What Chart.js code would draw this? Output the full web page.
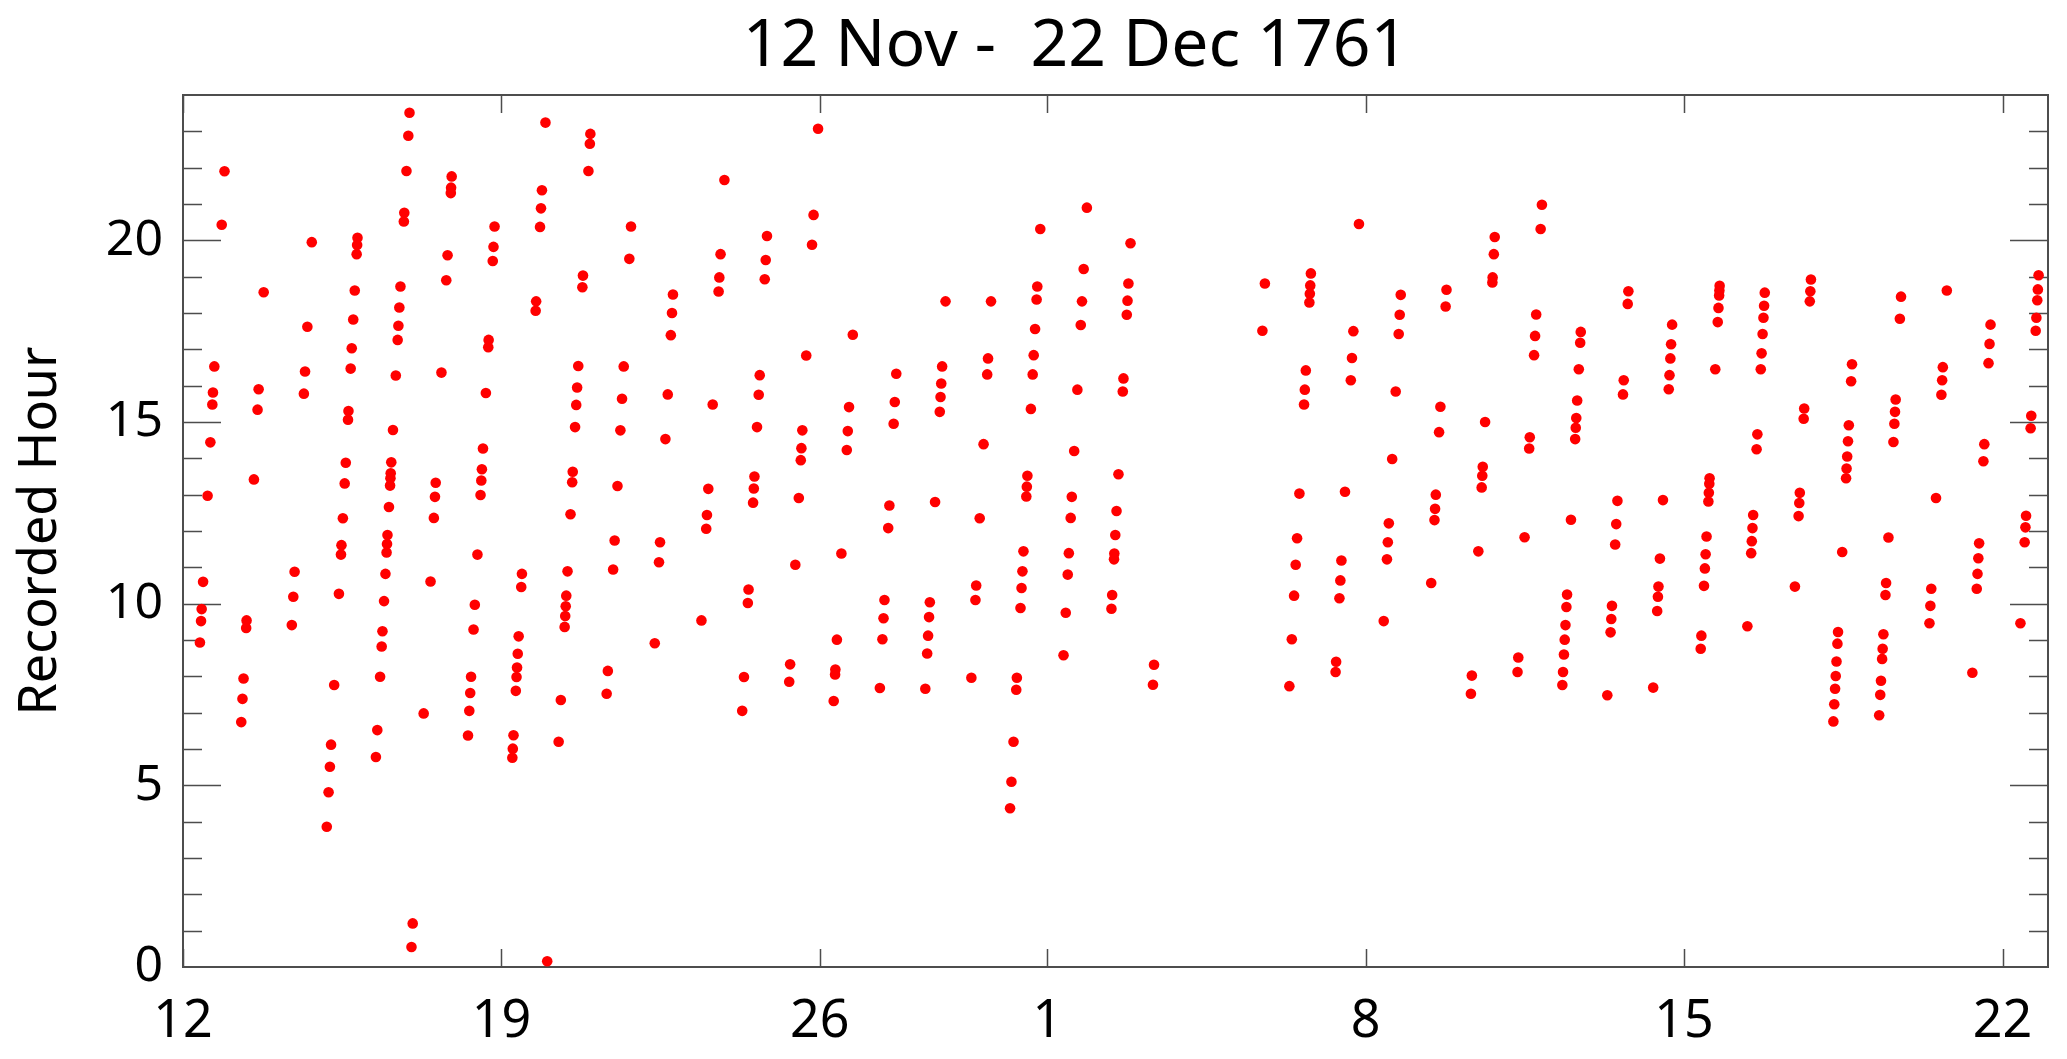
<!DOCTYPE html>
<html>
<head>
<meta charset="utf-8">
<title>Recorded Hour, 12 Nov - 22 Dec 1761</title>
<script src="https://cdn.jsdelivr.net/npm/chart.js@4.4.1/dist/chart.umd.min.js"></script>
<style>
  html, body { margin: 0; padding: 0; background: #fff; }
  canvas { display: block; }
</style>
</head>
<body>
<canvas id="chart" width="2067" height="1059"></canvas>
<script>
// Recorded hours for each day (day 0 = 12 Nov 1761)
const nov12 = [8.93, 9.52, 9.85, 10.60, 12.97, 14.44, 15.48, 15.81, 16.53, 20.43, 21.90];
const nov13 = [6.74, 7.38, 7.94, 9.33, 9.54, 13.42, 15.34, 15.90, 18.57];
const nov14 = [9.41, 10.19, 10.88, 15.78, 16.39, 17.62, 19.95];
const nov15 = [3.86, 4.81, 5.51, 6.12, 7.76, 10.27, 11.35, 11.61, 12.35, 13.31, 13.88, 15.06, 15.30, 16.47, 17.03, 17.82, 18.62, 19.62, 19.87, 20.07];
const nov16 = [5.78, 6.52, 7.99, 8.82, 9.24, 10.07, 10.82, 11.41, 11.64, 11.89, 12.66, 13.25, 13.45, 13.59, 13.89, 14.78, 16.28, 17.26, 17.65, 18.15, 18.73, 20.52, 20.76, 21.91, 22.88, 23.51];
const nov17 = [0.55, 1.20, 6.98, 10.61, 12.36, 12.94, 13.33, 16.36, 18.90, 19.59, 21.30, 21.45, 21.76];
const nov18 = [6.37, 7.05, 7.54, 7.99, 9.29, 9.97, 11.35, 12.99, 13.39, 13.70, 14.27, 15.80, 17.06, 17.26, 19.43, 19.82, 20.38];
const nov19 = [5.76, 6.01, 6.38, 7.60, 7.98, 8.24, 8.62, 9.10, 10.46, 10.82, 18.06, 18.32, 20.37, 20.88, 21.38, 23.24];
const nov20 = [0.16, 6.20, 7.35, 9.36, 9.66, 9.93, 10.22, 10.89, 12.46, 13.34, 13.63, 14.86, 15.47, 15.95, 16.54, 18.71, 19.03, 21.91, 22.66, 22.93];
const nov21 = [7.52, 8.15, 10.94, 11.74, 13.24, 14.77, 15.64, 16.53, 19.49, 20.38];
const nov22 = [8.91, 11.14, 11.69, 14.53, 15.76, 17.39, 18.00, 18.51];
const nov23 = [9.54, 12.06, 12.44, 13.16, 15.48, 18.59, 18.98, 19.62, 21.66];
const nov24 = [7.05, 7.98, 10.02, 10.39, 12.78, 13.17, 13.50, 14.86, 15.75, 16.29, 18.93, 19.46, 20.12];
const nov25 = [7.85, 8.33, 11.07, 12.91, 13.95, 14.28, 14.77, 16.83, 19.88, 20.70, 23.07];
const nov26 = [7.32, 8.05, 8.19, 9.01, 11.38, 14.23, 14.75, 15.41, 17.40];
const nov27 = [7.68, 9.02, 9.60, 10.10, 12.08, 12.70, 14.95, 15.55, 16.33];
const nov28 = [7.66, 8.63, 9.12, 9.63, 10.04, 12.80, 15.28, 15.69, 16.06, 16.53, 18.32];
const nov29 = [7.96, 10.10, 10.50, 12.35, 14.39, 16.31, 16.75, 18.32];
const nov30 = [4.37, 5.10, 6.20, 7.63, 7.96, 9.88, 10.43, 10.89, 11.44, 12.95, 13.22, 13.52, 15.36, 16.31, 16.84, 17.56, 18.37, 18.73, 20.31];
const dec01 = [8.58, 9.75, 10.80, 11.39, 12.36, 12.94, 14.20, 15.89, 17.67, 18.32, 19.21, 20.90];
const dec02 = [9.86, 10.24, 11.22, 11.38, 11.89, 12.55, 13.56, 15.84, 16.20, 17.95, 18.34, 18.81, 19.92];
const dec03 = [7.77, 8.32];
const dec04 = [];
const dec05 = [17.51, 18.81];
const dec06 = [7.73, 9.02, 10.22, 11.07, 11.80, 13.03, 15.48, 15.89, 16.42, 18.29, 18.53, 18.76, 19.09];
const dec07 = [8.12, 8.40, 10.15, 10.64, 11.19, 13.08, 16.15, 16.76, 17.50, 20.45];
const dec08 = [9.52, 11.22, 11.69, 12.21, 13.98, 15.84, 17.42, 17.95, 18.50];
const dec09 = [10.57, 12.30, 12.61, 13.00, 14.72, 15.42, 18.18, 18.64];
const dec10 = [7.52, 8.02, 11.44, 13.20, 13.52, 13.77, 15.00, 18.84, 18.98, 19.62, 20.09];
const dec11 = [8.12, 8.52, 11.83, 14.27, 14.58, 16.84, 17.37, 17.96, 20.31, 20.98];
const dec12 = [7.76, 8.12, 8.60, 9.01, 9.41, 9.91, 10.25, 12.31, 14.53, 14.84, 15.11, 15.59, 16.45, 17.18, 17.48];
const dec13 = [7.48, 9.21, 9.58, 9.94, 11.63, 12.19, 12.83, 15.76, 16.15, 18.25, 18.60];
const dec14 = [7.69, 9.80, 10.19, 10.47, 11.24, 12.85, 15.90, 16.29, 16.75, 17.14, 17.68];
const dec15 = [8.76, 9.12, 10.49, 10.97, 11.36, 11.85, 12.81, 13.05, 13.30, 13.45, 16.45, 17.75, 18.14, 18.48, 18.62, 18.75];
const dec16 = [9.38, 11.39, 11.72, 12.08, 12.44, 14.25, 14.66, 16.45, 16.89, 17.42, 17.87, 18.20, 18.56];
const dec17 = [10.47, 12.41, 12.77, 13.05, 15.09, 15.37, 18.32, 18.60, 18.92];
const dec18 = [6.76, 7.23, 7.66, 8.01, 8.41, 8.90, 9.22, 11.42, 13.45, 13.72, 14.05, 14.47, 14.91, 16.12, 16.59];
const dec19 = [6.93, 7.49, 7.88, 8.48, 8.76, 9.16, 10.24, 10.57, 11.82, 14.45, 14.95, 15.28, 15.62, 17.84, 18.45];
const dec20 = [9.46, 9.94, 10.41, 12.91, 15.75, 16.15, 16.51, 18.62];
const dec21 = [8.10, 10.41, 10.82, 11.25, 11.66, 13.92, 14.39, 16.62, 17.15, 17.68];
const dec22 = [9.46, 11.69, 12.10, 12.42, 14.83, 15.17, 17.51, 17.87, 18.35, 18.65, 19.04];

const days = [nov12, nov13, nov14, nov15, nov16, nov17, nov18, nov19, nov20, nov21,
              nov22, nov23, nov24, nov25, nov26, nov27, nov28, nov29, nov30,
              dec01, dec02, dec03, dec04, dec05, dec06, dec07, dec08, dec09, dec10,
              dec11, dec12, dec13, dec14, dec15, dec16, dec17, dec18, dec19, dec20,
              dec21, dec22];

// x axis ticks (day index -> day of month)
const tickDays = [0, 7, 14, 19, 26, 33, 40];
const tickLabels = ['12', '19', '26', '1', '8', '15', '22'];
const hourTicks = [0, 5, 10, 15, 20];

const titleText = '12 Nov -  22 Dec 1761';
const fontFamily = '"Noto Sans", "DejaVu Sans", sans-serif';

// each point sits at day + fraction of the day
const points = [];
days.forEach((hours, d) => {
    hours.forEach(h => points.push({ x: d + h / 24, y: h }));
});

// box frame with inward ticks, like the original plot
const frameTicks = {
    id: 'frameTicks',
    beforeDatasetsDraw(chart) {
        const { ctx, chartArea: a, scales: { x, y } } = chart;
        ctx.save();
        ctx.strokeStyle = '#4d4d4d';
        ctx.lineWidth = 2;
        ctx.strokeRect(a.left, a.top, a.right - a.left, a.bottom - a.top);
        ctx.lineWidth = 1.5;
        ctx.beginPath();
        for (let h = 1; h < 24; h++) {
            const py = Math.round(y.getPixelForValue(h)) + 0.5;
            const len = h % 5 === 0 ? 38 : 19;
            ctx.moveTo(a.left, py);
            ctx.lineTo(a.left + len, py);
            ctx.moveTo(a.right, py);
            ctx.lineTo(a.right - len, py);
        }
        tickDays.forEach(d => {
            const px = Math.round(x.getPixelForValue(d)) + 0.5;
            ctx.moveTo(px, a.bottom);
            ctx.lineTo(px, a.bottom - 18);
            ctx.moveTo(px, a.top);
            ctx.lineTo(px, a.top + 18);
        });
        ctx.stroke();
        ctx.restore();
    },
    // title sits a bit left of the plot centre in the original
    afterDraw(chart) {
        const { ctx, chartArea: a } = chart;
        ctx.save();
        ctx.fillStyle = '#000';
        ctx.font = '66px ' + fontFamily;
        ctx.textAlign = 'center';
        ctx.textBaseline = 'alphabetic';
        ctx.fillText(titleText, (a.left + a.right) / 2 - 40, 66);
        ctx.restore();
    }
};

const ctx = document.getElementById('chart').getContext('2d');
new Chart(ctx, {
    type: 'scatter',
    data: {
        datasets: [{
            label: 'Recorded Hour',
            data: points,
            backgroundColor: '#ff0000',
            borderWidth: 0,
            pointRadius: 5.3
        }]
    },
    options: {
        responsive: false,
        animation: false,
        layout: { padding: { top: 95, right: 19, bottom: 0, left: 0 } },
        plugins: {
            legend: { display: false },
            tooltip: { enabled: false },
            title: { display: false }
        },
        scales: {
            x: {
                type: 'linear',
                min: 0,
                max: 41,
                grid: { display: false, drawTicks: false },
                border: { display: false },
                afterBuildTicks: scale => {
                    scale.ticks = tickDays.map(v => ({ value: v }));
                },
                ticks: {
                    autoSkip: false,
                    maxRotation: 0,
                    padding: 24,
                    color: '#000',
                    font: { family: fontFamily, size: 52 },
                    callback: (value, index) => tickLabels[index]
                },
                afterFit: scale => { scale.height = 92; }
            },
            y: {
                min: 0,
                max: 24,
                grid: { display: false, drawTicks: false },
                border: { display: false },
                afterBuildTicks: scale => {
                    scale.ticks = hourTicks.map(v => ({ value: v }));
                },
                ticks: {
                    padding: 20,
                    color: '#000',
                    font: { family: fontFamily, size: 50 }
                },
                title: {
                    display: true,
                    text: 'Recorded Hour',
                    color: '#000',
                    font: { family: fontFamily, size: 52 },
                    padding: { top: 10, bottom: 0 }
                },
                afterFit: scale => { scale.width = 183; }
            }
        }
    },
    plugins: [frameTicks]
});
</script>
</body>
</html>
